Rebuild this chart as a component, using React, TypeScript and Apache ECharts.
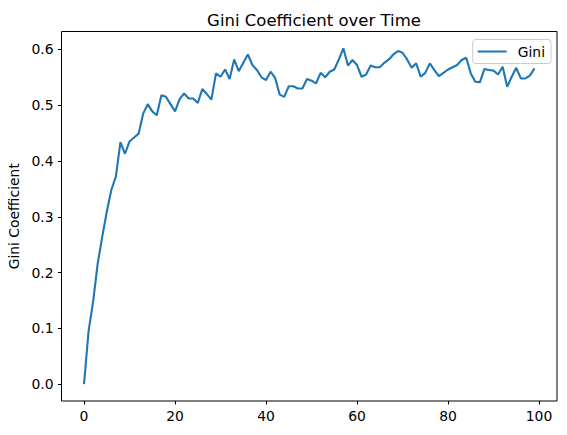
import React, { useEffect, useRef } from "react";
import * as echarts from "echarts";

const steps: number[] = Array.from({ length: 100 }, (_, i) => i);
const gini: number[] = [
  0, 0.095, 0.148, 0.216, 0.264, 0.309, 0.348, 0.372, 0.434, 0.413,
  0.435, 0.442, 0.449, 0.485, 0.502, 0.489, 0.482, 0.518, 0.515, 0.502,
  0.489, 0.511, 0.521, 0.512, 0.512, 0.504, 0.529, 0.52, 0.51, 0.557,
  0.551, 0.564, 0.547, 0.582, 0.561, 0.576, 0.591, 0.572, 0.563, 0.55,
  0.545, 0.56, 0.549, 0.519, 0.515, 0.534, 0.534, 0.53, 0.53, 0.547,
  0.544, 0.539, 0.558, 0.55, 0.56, 0.564, 0.582, 0.602, 0.571, 0.581,
  0.572, 0.551, 0.555, 0.571, 0.568, 0.568, 0.576, 0.582, 0.591, 0.597,
  0.594, 0.582, 0.567, 0.575, 0.551, 0.558, 0.575, 0.563, 0.552, 0.558,
  0.564, 0.568, 0.572, 0.581, 0.585, 0.557, 0.542, 0.541, 0.565, 0.563,
  0.562, 0.555, 0.569, 0.533, 0.551, 0.567, 0.548, 0.548, 0.553, 0.566,
];
const xTicks: number[] = [0, 20, 40, 60, 80, 100];
const yTicks: number[] = [0, 0.1, 0.2, 0.3, 0.4, 0.5, 0.6];

const FONT = "DejaVu Sans";

export default function App() {
  const ref = useRef<HTMLDivElement>(null);
  useEffect(() => {
    if (!ref.current) return;
    const chart = echarts.init(ref.current, undefined, { renderer: "svg" });
    const xMin = Math.min(...steps), xMax = Math.max(...steps);
    const yMin = Math.min(...gini), yMax = Math.max(...gini);
    const xm = (xMax - xMin) * 0.05, ym = (yMax - yMin) * 0.05;
    chart.setOption({
      animation: false,
      backgroundColor: "#fff",
      title: {
        text: "Gini Coefficient over Time",
        left: 309,
        textAlign: "center",
        top: 7,
        textStyle: { fontFamily: FONT, fontSize: 16.5, fontWeight: "normal", color: "#000" },
      },
      legend: {
        right: 16,
        top: 39.5,
        padding: [5, 6, 5, 5],
        icon: "rect",
        itemWidth: 29,
        itemHeight: 2,
        backgroundColor: "rgba(255,255,255,0.8)",
        borderColor: "#cccccc",
        borderWidth: 1,
        borderRadius: 3,
        textStyle: { fontFamily: FONT, fontSize: 13.9, color: "#000", padding: [0, 0, 0, 6] },
      },
      grid: {
        left: 61.5,
        right: 10,
        top: 31.5,
        bottom: 34,
        show: true,
        borderColor: "#000",
        borderWidth: 1,
        containLabel: false,
        outerBoundsMode: "none",
      },
      xAxis: {
        type: "value",
        min: xMin - xm,
        max: xMax + xm,
        splitLine: { show: false },
        axisLine: { show: false, onZero: false },
        axisTick: { show: true, length: 3.5, lineStyle: { color: "#000" }, customValues: xTicks },
        axisLabel: {
          customValues: xTicks,
          margin: 8,
          fontFamily: FONT,
          fontSize: 13.9,
          color: "#000",
        },
      },
      yAxis: {
        type: "value",
        min: yMin - ym,
        max: yMax + ym,
        name: "Gini Coefficient",
        nameLocation: "middle",
        nameGap: 33,
        nameRotate: 90,
        nameTextStyle: { fontFamily: FONT, fontSize: 13.9, color: "#000" },
        splitLine: { show: false },
        axisLine: { show: false, onZero: false },
        axisTick: { show: true, length: 3.5, lineStyle: { color: "#000" }, customValues: yTicks },
        axisLabel: {
          customValues: yTicks,
          margin: 8,
          fontFamily: FONT,
          fontSize: 13.9,
          color: "#000",
          formatter: (v: number) => v.toFixed(1),
        },
      },
      series: [
        {
          name: "Gini",
          type: "line",
          data: steps.map((s, i) => [s, gini[i]]),
          symbol: "none",
          lineStyle: { color: "#1f77b4", width: 2.1 },
          itemStyle: { color: "#1f77b4" },
        },
      ],
    });
    return () => chart.dispose();
  }, []);
  return <div ref={ref} style={{ width: 567, height: 435, margin: -8 }} />;
}
